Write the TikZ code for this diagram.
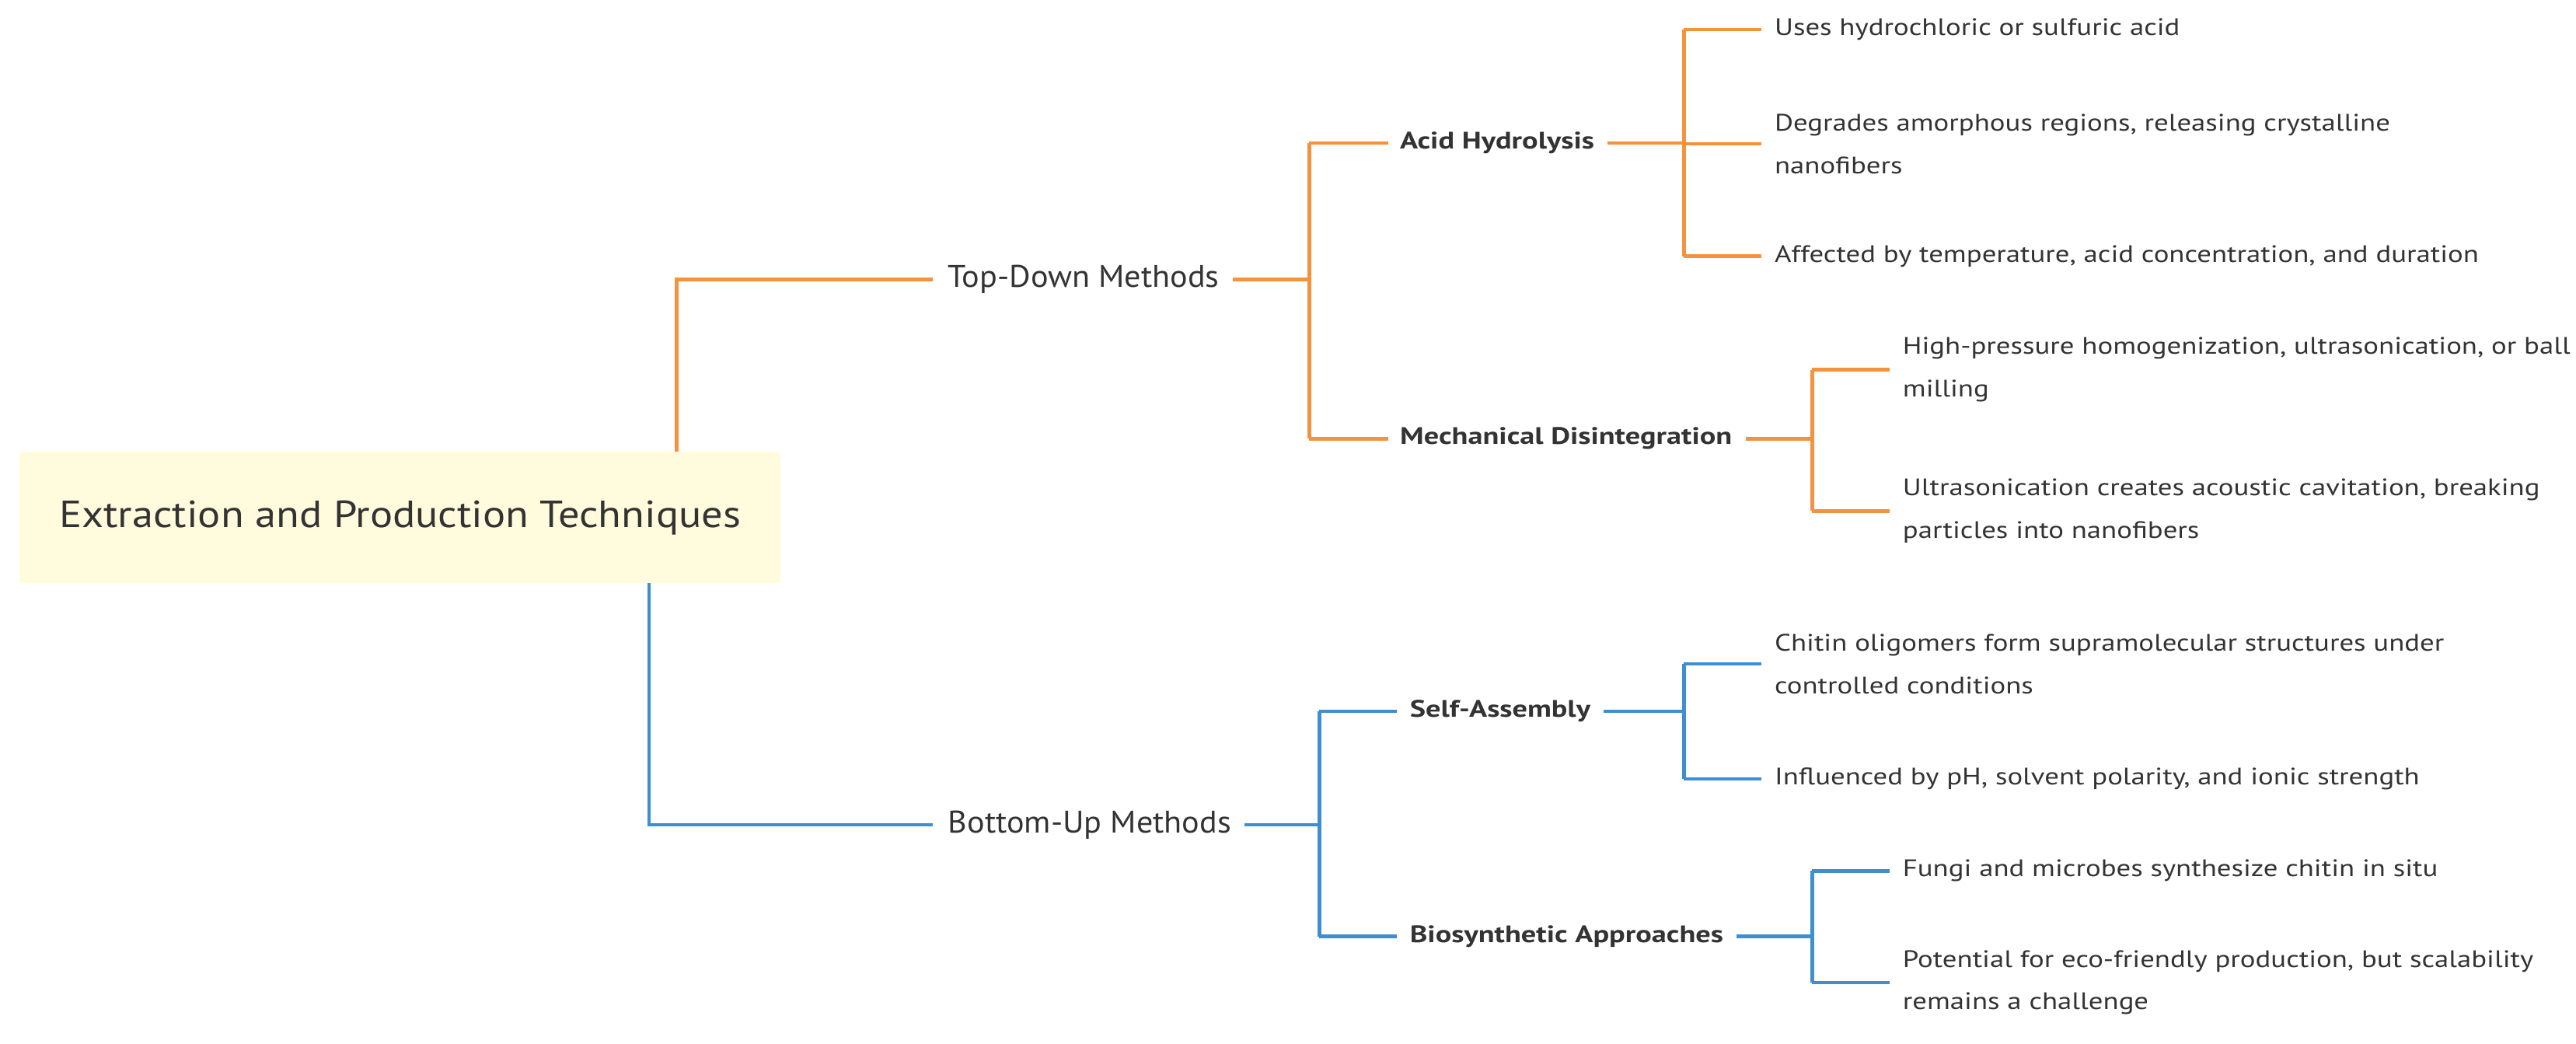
\documentclass[tikz,border=0pt]{standalone}
\usepackage{fontspec}
\setmainfont{PT Sans}
\newfontfamily\leaffont{PT Sans}[FakeStretch=1.2]
\newfontfamily\subfont{PT Sans}[FakeStretch=1.25]
\newfontfamily\midfont{PT Sans}[FakeStretch=1.05]
\newfontfamily\rootfont{PT Sans}[FakeStretch=1.12]
\definecolor{org}{HTML}{F5923E}
\definecolor{blu}{HTML}{3D8FD1}
\definecolor{rootf}{HTML}{FFFBDC}
\definecolor{txt}{HTML}{333333}
\begin{document}
\begin{tikzpicture}[x=1pt,y=-1pt,
 leaf/.style={anchor=west,inner sep=0,align=left,text=txt,font=\leaffont\fontsize{14.5}{26}\selectfont},
 mid/.style={anchor=west,inner sep=0,text=txt,font=\midfont\fontsize{19}{22}\selectfont},
 sub/.style={anchor=west,inner sep=0,text=txt,font=\subfont\bfseries\fontsize{14.5}{16}\selectfont},
 o/.style={draw=org,line width=2.2pt},
 b/.style={draw=blu,line width=2.2pt}]
\useasboundingbox (0,0) rectangle (1568,635);
\node[fill=rootf,minimum width=463,minimum height=80,rounded corners=2,text=txt,font=\rootfont\fontsize{23}{26}\selectfont] (root) at (243.5,315) {Extraction and Production Techniques};
% top
\node[mid] (td) at (577,170) {Top-Down Methods};
\node[sub] (ah) at (852,87) {Acid Hydrolysis};
\node[sub] (md) at (852,267) {Mechanical Disintegration};
\node[leaf] (a1) at (1080,18) {Uses hydrochloric or sulfuric acid};
\node[leaf] (a2) at (1080,87.5) {Degrades amorphous regions, releasing crystalline\\nanofibers};
\node[leaf] (a3) at (1080,156) {Affected by temperature, acid concentration, and duration};
\node[leaf] (m1) at (1158,225) {High-pressure homogenization, ultrasonication, or ball\\milling};
\node[leaf] (m2) at (1158,311) {Ultrasonication creates acoustic cavitation, breaking\\particles into nanofibers};
% bottom
\node[mid] (bu) at (577,502) {Bottom-Up Methods};
\node[sub] (sa) at (858,433) {Self-Assembly};
\node[sub] (bs) at (858,570) {Biosynthetic Approaches};
\node[leaf] (s1) at (1080,404) {Chitin oligomers form supramolecular structures under\\controlled conditions};
\node[leaf] (s2) at (1080,474) {Influenced by pH, solvent polarity, and ionic strength};
\node[leaf] (b1) at (1158,530) {Fungi and microbes synthesize chitin in situ};
\node[leaf] (b2) at (1158,598) {Potential for eco-friendly production, but scalability\\remains a challenge};
% connectors
\coordinate (jr1) at (412,275); \coordinate (jr2) at (395,355);
\draw[o] (jr1) |- ([xshift=-9]td.west);
\draw[b] (jr2) |- ([xshift=-9]bu.west);
\coordinate (j1) at (797,170);
\draw[o] ([xshift=8]td.east) -- (j1);
\draw[o] (j1 |- ah) -- (j1 |- md);
\draw[o] (j1 |- ah) -- ([xshift=-7]ah.west);
\draw[o] (j1 |- md) -- ([xshift=-7]md.west);
\coordinate (j2) at (1025,87);
\draw[o] ([xshift=8]ah.east) -- (j2);
\draw[o] (j2 |- a1) -- (j2 |- a3);
\foreach \n in {a1,a2,a3} \draw[o] (j2 |- \n) -- ([xshift=-8]\n.west);
\coordinate (j3) at (1103,267);
\draw[o] ([xshift=8]md.east) -- (j3);
\draw[o] (j3 |- m1) -- (j3 |- m2);
\foreach \n in {m1,m2} \draw[o] (j3 |- \n) -- ([xshift=-8]\n.west);
\coordinate (k1) at (803,502);
\draw[b] ([xshift=8]bu.east) -- (k1);
\draw[b] (k1 |- sa) -- (k1 |- bs);
\draw[b] (k1 |- sa) -- ([xshift=-8]sa.west);
\draw[b] (k1 |- bs) -- ([xshift=-8]bs.west);
\coordinate (k2) at (1025,433);
\draw[b] ([xshift=8]sa.east) -- (k2);
\draw[b] (k2 |- s1) -- (k2 |- s2);
\foreach \n in {s1,s2} \draw[b] (k2 |- \n) -- ([xshift=-8]\n.west);
\coordinate (k3) at (1103,570);
\draw[b] ([xshift=8]bs.east) -- (k3);
\draw[b] (k3 |- b1) -- (k3 |- b2);
\foreach \n in {b1,b2} \draw[b] (k3 |- \n) -- ([xshift=-8]\n.west);
\end{tikzpicture}
\end{document}
